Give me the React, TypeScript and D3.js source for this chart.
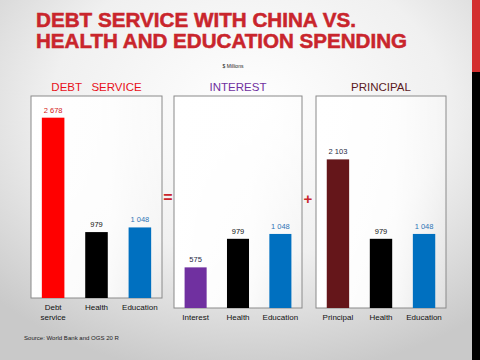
import React from "react";
import * as d3 from "d3";

const W = 480;
const H = 360;

const titleLines = ["DEBT SERVICE WITH CHINA VS.", "HEALTH AND EDUCATION SPENDING"];
const unitLabel = "$ Millions";
const sourceText = "Source: World Bank and OGS 20 R";

const panelTitles = ["DEBT   SERVICE", "INTEREST", "PRINCIPAL"];
const debtCategories = ["Debt service", "Health", "Education"];
const debtValues = [2678, 979, 1048];
const interestCategories = ["Interest", "Health", "Education"];
const interestValues = [575, 979, 1048];
const principalCategories = ["Principal", "Health", "Education"];
const principalValues = [2103, 979, 1048];
const operators = ["=", "+"];

const fmt = d3.formatLocale({ decimal: ".", thousands: " ", grouping: [3], currency: ["$", ""] }).format(",d");

type Panel = {
  title: string;
  titleColor: string;
  cats: string[];
  vals: number[];
  barColors: string[];
  labelColors: string[];
  x0: number;
  x1: number;
  y0: number;
  y1: number;
};

const panels: Panel[] = [
  {
    title: panelTitles[0],
    titleColor: "#E8101A",
    cats: debtCategories,
    vals: debtValues,
    barColors: ["#FF0000", "#000000", "#0070C0"],
    labelColors: ["#D42020", "#111111", "#2E75B6"],
    x0: 31, x1: 162, y0: 96, y1: 298,
  },
  {
    title: panelTitles[1],
    titleColor: "#7030A0",
    cats: interestCategories,
    vals: interestValues,
    barColors: ["#7030A0", "#000000", "#0070C0"],
    labelColors: ["#1F2A44", "#111111", "#2E75B6"],
    x0: 174, x1: 302, y0: 96, y1: 308,
  },
  {
    title: panelTitles[2],
    titleColor: "#5C1A1E",
    cats: principalCategories,
    vals: principalValues,
    barColors: ["#65161A", "#000000", "#0070C0"],
    labelColors: ["#1F2A44", "#111111", "#2E75B6"],
    x0: 316, x1: 446, y0: 96, y1: 308,
  },
];

const FONT = "'Liberation Sans', Arial, sans-serif";

function PanelChart({ p }: { p: Panel }) {
  const x = d3.scaleBand<string>().domain(p.cats).range([p.x0, p.x1]).paddingInner(0.48).paddingOuter(0.25);
  const y = d3.scaleLinear().domain([0, 3000]).range([p.y1, p.y0]);
  const cx = (p.x0 + p.x1) / 2;
  return (
    <g>
      <rect x={p.x0} y={p.y0} width={p.x1 - p.x0} height={p.y1 - p.y0} fill="url(#panelFill)" stroke="#8a8a8a" strokeWidth={1} />
      <text x={cx} y={p.y0 - 5} textAnchor="middle" fontFamily={FONT} fontSize={11.5} fill={p.titleColor} style={{ whiteSpace: "pre" }}>
        {p.title}
      </text>
      {p.cats.map((c, i) => {
        const bx = x(c)!;
        const by = y(p.vals[i]);
        const words = c.split(" ");
        return (
          <g key={c}>
            <rect x={bx} y={by} width={x.bandwidth()} height={p.y1 - by} fill={p.barColors[i]} />
            <text x={bx + x.bandwidth() / 2} y={by - 5} textAnchor="middle" fontFamily={FONT} fontSize={7.5} fill={p.labelColors[i]}>
              {fmt(p.vals[i])}
            </text>
            {words.length > 1 && p.y1 < 300 ? (
              words.map((w, k) => (
                <text key={w} x={bx + x.bandwidth() / 2} y={p.y1 + 12 + k * 9.5} textAnchor="middle" fontFamily={FONT} fontSize={8} fill="#111">
                  {w}
                </text>
              ))
            ) : (
              <text x={bx + x.bandwidth() / 2} y={p.y1 + 12} textAnchor="middle" fontFamily={FONT} fontSize={8} fill="#111">
                {c}
              </text>
            )}
          </g>
        );
      })}
    </g>
  );
}

export default function App() {
  return (
    <svg width={W} height={H} style={{ position: "absolute", left: 0, top: 0, display: "block" }}>
      <defs>
        <radialGradient id="bg" cx="0.52" cy="0.3" r="0.75">
          <stop offset="0" stopColor="#ffffff" />
          <stop offset="0.55" stopColor="#f0f0f0" />
          <stop offset="1" stopColor="#c9c9c9" />
        </radialGradient>
        <linearGradient id="panelFill" x1="0" y1="0" x2="1" y2="0">
          <stop offset="0" stopColor="#ffffff" stopOpacity={1} />
          <stop offset="0.6" stopColor="#ffffff" stopOpacity={0.85} />
          <stop offset="1" stopColor="#ffffff" stopOpacity={0.3} />
        </linearGradient>
      </defs>
      <rect x={0} y={0} width={W} height={H} fill="url(#bg)" />
      <rect x={472} y={0} width={8} height={72} fill="#D32F2F" />
      <rect x={472} y={72} width={8} height={H - 72} fill="#000000" />

      <text x={36} y={26.7} fontFamily={FONT} fontWeight="bold" fontSize={19.5} fill="#C9252C" stroke="#C9252C" strokeWidth={0.5} textLength={320} lengthAdjust="spacingAndGlyphs">
        {titleLines[0]}
      </text>
      <text x={36} y={48.3} fontFamily={FONT} fontWeight="bold" fontSize={19.5} fill="#C9252C" stroke="#C9252C" strokeWidth={0.5} textLength={371} lengthAdjust="spacingAndGlyphs">
        {titleLines[1]}
      </text>

      <text x={233} y={68} textAnchor="middle" fontFamily={FONT} fontSize={5} fill="#222">
        {unitLabel}
      </text>

      {panels.map((p) => (
        <PanelChart key={p.title} p={p} />
      ))}

      <text x={168} y={202.5} textAnchor="middle" fontFamily={FONT} fontWeight="bold" fontSize={16} fill="#C9252C">
        {operators[0]}
      </text>
      <text x={308} y={203.5} textAnchor="middle" fontFamily={FONT} fontWeight="bold" fontSize={15} fill="#C9252C">
        {operators[1]}
      </text>

      <text x={24} y={340} fontFamily={FONT} fontSize={5.5} fill="#222" textLength={95} lengthAdjust="spacingAndGlyphs">
        {sourceText}
      </text>
    </svg>
  );
}
